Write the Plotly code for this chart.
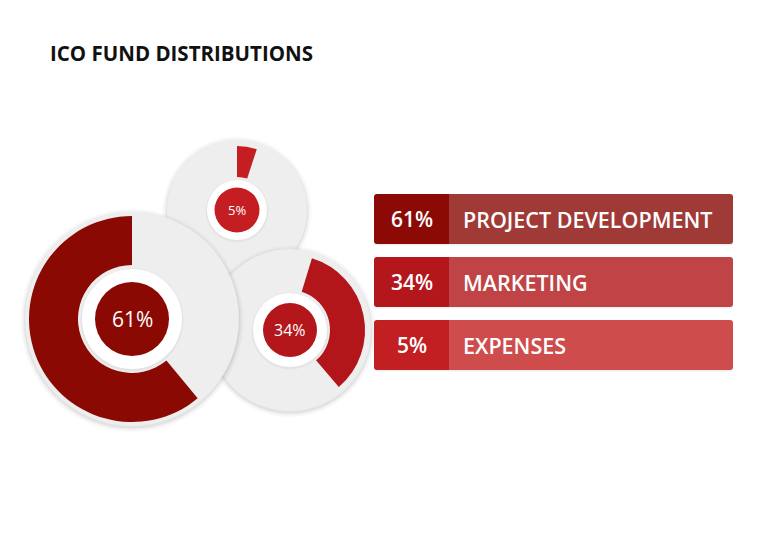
import plotly.graph_objects as go

# ---- data ----
categories = ["PROJECT DEVELOPMENT", "MARKETING", "EXPENSES"]
shares = [61, 34, 5]
title_text = "ICO FUND DISTRIBUTIONS"

# ---- styles ----
ring_colors = ["#8a0903", "#b3161a", "#c41e23"]
center_colors = ["#8a0903", "#b3171b", "#c41e23"]
bar_left_colors = ["#8b0a05", "#b3171b", "#c11f22"]
bar_right_colors = ["#a03a37", "#c04446", "#cf4c4d"]
gray = "#eeeeee"
W, H = 760, 548
FONT = "Open Sans"

# layout geometry for each donut (pixels): center, gray disc r, ring outer r, ring inner r,
# white ring r, center disc r, start rotation, slice-first flag, label font size
donut_geo = [
    dict(cx=132, cy=319, rg=107, ro=103, ri=54, rw=50, rc=37, rot=0, value_first=False, fs=21),
    dict(cx=290, cy=330, rg=81, ro=75, ri=40, rw=37, rc=27, rot=17, value_first=True, fs=16),
    dict(cx=237, cy=210, rg=70, ro=64, ri=33, rw=30, rc=22.5, rot=0, value_first=True, fs=13),
]
draw_order = [2, 1, 0]  # small, medium, big (big on top)

fig = go.Figure()
shapes = []
annotations = []


def circle(cx, cy, r, color, layer):
    return dict(type="circle", xref="x", yref="y", x0=cx - r, x1=cx + r, y0=cy - r, y1=cy + r,
                fillcolor=color, line=dict(width=0), layer=layer)


# gray discs with soft shadow
for i in draw_order:
    g = donut_geo[i]
    for k, a in [(5, 0.015), (3.5, 0.022), (2, 0.03), (1, 0.045)]:
        shapes.append(circle(g["cx"], g["cy"] + 1.5, g["rg"] + k, f"rgba(0,0,0,{a})", "below"))
    shapes.append(circle(g["cx"], g["cy"], g["rg"], gray, "below"))

# donut rings from data
for i in draw_order:
    g = donut_geo[i]
    v = shares[i]
    x0 = (g["cx"] - g["ro"]) / W
    x1 = (g["cx"] + g["ro"]) / W
    y0 = (H - (g["cy"] + g["ro"])) / H
    y1 = (H - (g["cy"] - g["ro"])) / H
    vals = [v, 100 - v]
    labs = [categories[i], "rest"]
    cols = [ring_colors[i], "rgba(0,0,0,0)"]
    if not g["value_first"]:
        vals, labs, cols = vals[::-1], labs[::-1], cols[::-1]
    fig.add_trace(go.Pie(
        values=vals, labels=labs,
        marker=dict(colors=cols, line=dict(width=0)),
        hole=g["ri"] / g["ro"], sort=False, direction="clockwise", rotation=g["rot"],
        textinfo="none", hoverinfo="skip", showlegend=False,
        domain=dict(x=[x0, x1], y=[y0, y1]),
    ))

# white rings and center discs with percentages
for i in draw_order:
    g = donut_geo[i]
    shapes.append(circle(g["cx"], g["cy"] + 1, g["rw"] + 1.5, "rgba(0,0,0,0.04)", "above"))
    shapes.append(circle(g["cx"], g["cy"], g["rw"], "#ffffff", "above"))
    shapes.append(circle(g["cx"], g["cy"], g["rc"], center_colors[i], "above"))
    annotations.append(dict(x=g["cx"], y=g["cy"], xref="x", yref="y", text=f"{shares[i]}%",
                            showarrow=False,
                            font=dict(family=FONT, size=g["fs"], color="white", weight=400),
                            xanchor="center", yanchor="middle"))


# legend bars
def rrect(x0, y0, x1, y1, r, rl=True, rr=True):
    p = []
    if rl:
        p.append(f"M{x0 + r},{y0}")
    else:
        p.append(f"M{x0},{y0}")
    if rr:
        p.append(f"L{x1 - r},{y0} Q{x1},{y0} {x1},{y0 + r} L{x1},{y1 - r} Q{x1},{y1} {x1 - r},{y1}")
    else:
        p.append(f"L{x1},{y0} L{x1},{y1}")
    if rl:
        p.append(f"L{x0 + r},{y1} Q{x0},{y1} {x0},{y1 - r} L{x0},{y0 + r} Q{x0},{y0} {x0 + r},{y0} Z")
    else:
        p.append(f"L{x0},{y1} Z")
    return " ".join(p)


bar_x0, bar_split, bar_x1 = 374, 449, 733
bar_tops = [194, 257, 320]
bar_h = 50
for i, cat in enumerate(categories):
    t = bar_tops[i]
    b = t + bar_h
    shapes.append(dict(type="path", xref="x", yref="y", path=rrect(bar_x0, t + 1, bar_x1, b + 1.5, 3),
                       fillcolor="rgba(0,0,0,0.06)", line=dict(width=0), layer="below"))
    shapes.append(dict(type="path", xref="x", yref="y", path=rrect(bar_split, t, bar_x1, b, 3, rl=False),
                       fillcolor=bar_right_colors[i], line=dict(width=0), layer="below"))
    shapes.append(dict(type="path", xref="x", yref="y", path=rrect(bar_x0, t, bar_split, b, 3, rr=False),
                       fillcolor=bar_left_colors[i], line=dict(width=0), layer="below"))
    annotations.append(dict(x=(bar_x0 + bar_split) / 2, y=t + bar_h / 2, xref="x", yref="y",
                            text=f"{shares[i]}%", showarrow=False, xanchor="center", yanchor="middle",
                            font=dict(family=FONT, size=21, color="white", weight=600)))
    annotations.append(dict(x=bar_split + 12, y=t + bar_h / 2, xref="x", yref="y",
                            text=cat, showarrow=False, xanchor="left", yanchor="middle",
                            font=dict(family=FONT, size=21.5, color="white", weight=600)))

annotations.append(dict(x=48, y=53, xref="x", yref="y", text=f"<b>{title_text}</b>", showarrow=False,
                        xanchor="left", yanchor="middle", font=dict(family=FONT, size=20.5, color="#111111")))

fig.update_layout(
    width=W, height=H, margin=dict(l=0, r=0, t=0, b=0),
    paper_bgcolor="white", plot_bgcolor="white",
    xaxis=dict(range=[0, W], visible=False, fixedrange=True),
    yaxis=dict(range=[H, 0], visible=False, fixedrange=True),
    shapes=shapes, annotations=annotations, showlegend=False,
)

fig.write_html("out.html")
